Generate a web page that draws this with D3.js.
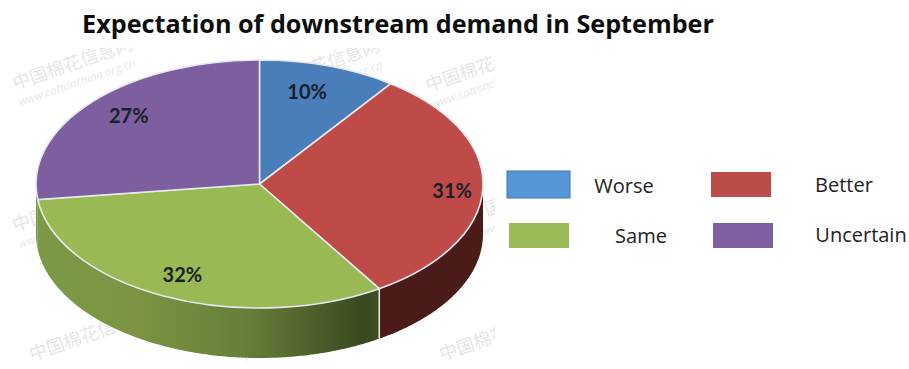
<!DOCTYPE html>
<html>
<head>
<meta charset="utf-8">
<script src="https://cdn.jsdelivr.net/npm/d3@7"></script>
<style>
html,body{margin:0;padding:0;background:#fff}
svg{display:block}
text{font-family:"Open Sans",sans-serif}
</style>
</head>
<body>
<svg id="chart" width="909" height="369"></svg>
<script>
// Survey shares
const categories = ["Worse", "Better", "Same", "Uncertain"];
const shares = [10, 31, 32, 27];
const topColors = ["#4a7ebb", "#be4b48", "#98b954", "#7d5f9f"];
const legendColors = ["#5596d6", "#bd4b4a", "#9bbb59", "#7f5f9f"];
const chartTitle = "Expectation of downstream demand in September";

// Faint site stamps printed behind the pie: [x, y, carries the web address]
const stampMain = "中国棉花信息网";
const stampSub = "www.cottonchina.org.cn";
const stampSpots = [
  [15, 90, true], [262, 92, true], [428, 92, true],
  [15, 232, true], [470, 222, true],
  [32, 361, false], [238, 362, false], [442, 361, false]
];

// Pie ellipse and wall height
const cx = 259.5, cy = 184, rx = 223.5, ry = 124, depth = 50;

const svg = d3.select("#chart");
const defs = svg.append("defs");

// Wall shading: the green side darkens towards the right
const wallGrad = defs.append("linearGradient")
  .attr("id", "greenWall").attr("gradientUnits", "userSpaceOnUse")
  .attr("x1", cx - rx).attr("x2", 380).attr("y1", 0).attr("y2", 0);
[[0, "#7c9a45"], [0.3, "#7a9443"], [0.6, "#67803a"], [0.85, "#475a28"], [0.95, "#39481e"], [1, "#3f4f22"]]
  .forEach(([o, c]) => wallGrad.append("stop").attr("offset", o).attr("stop-color", c));

const wallFill = ["none", "#4a1b18", "url(#greenWall)", "#7c9a45"];

// The stamps stay inside the pie's own panel, below the title and left of the legend
defs.append("clipPath").attr("id", "stampPanel").append("rect")
  .attr("x", 0).attr("y", 48).attr("width", 495).attr("height", 321);

const stamps = svg.append("g").attr("class", "stamps").attr("clip-path", "url(#stampPanel)");
stampSpots.forEach(([x, y, hasSub]) => {
  const g = stamps.append("g").attr("transform", `translate(${x},${y}) rotate(-19)`);
  g.append("text").text(stampMain).attr("font-size", 18).attr("fill", "#e6e6e6")
    .style("font-family", '"Noto Sans CJK SC"');
  if (hasSub) {
    g.append("text").text(stampSub).attr("y", 17).attr("font-size", 11.5)
      .attr("font-style", "italic").attr("fill", "#e8e8e8");
  }
});

// Title
svg.append("text").attr("x", 398).attr("y", 33).attr("text-anchor", "middle")
  .attr("font-size", 25.2).attr("font-weight", 700).attr("fill", "#0d0d0d")
  .text(chartTitle);

const pie = d3.pie().sort(null).value(d => d);
const arcs = pie(shares);

// Projects a pie angle (clockwise from twelve o'clock) onto the tilted ellipse
const px = a => cx + rx * Math.sin(a);
const py = a => cy - ry * Math.cos(a);

// Front wall of each slice, limited to the visible half of the ellipse
const wallPath = (start, end) => {
  const a0 = Math.max(start, Math.PI / 2), a1 = Math.min(end, 3 * Math.PI / 2);
  if (a1 <= a0) return null;
  const steps = d3.range(a0, a1, 0.01).concat([a1]);
  const lower = steps.map(a => [px(a), py(a) + depth]);
  const upper = steps.slice().reverse().map(a => [px(a), py(a)]);
  return d3.line()(lower.concat(upper)) + "Z";
};

const walls = svg.append("g").attr("class", "walls");
arcs.forEach((d, i) => {
  const p = wallPath(d.startAngle, d.endAngle);
  if (p) walls.append("path").attr("d", p).attr("fill", wallFill[i]);
});
// Pale seam where the red and green walls meet
const seam = arcs[1].endAngle;
walls.append("line").attr("x1", px(seam)).attr("x2", px(seam))
  .attr("y1", py(seam)).attr("y2", py(seam) + depth)
  .attr("stroke", "#e4e8dc").attr("stroke-width", 1.6);

// Top face: a circular arc squashed into the ellipse
const arcGen = d3.arc().innerRadius(0).outerRadius(rx);
svg.append("g").attr("transform", `translate(${cx},${cy}) scale(1,${ry / rx})`)
  .selectAll("path").data(arcs).join("path")
  .attr("d", arcGen)
  .attr("fill", (d, i) => topColors[i])
  .attr("stroke", "#e6e8ee").attr("stroke-width", 1.6)
  .attr("vector-effect", "non-scaling-stroke");

// Value labels, placed as fractions of the ellipse radii from its centre
const labelSpots = [[0.213, -0.745], [0.862, 0.05], [-0.345, 0.73], [-0.585, -0.55]];
svg.append("g").selectAll("text").data(shares).join("text")
  .attr("x", (d, i) => cx + labelSpots[i][0] * rx)
  .attr("y", (d, i) => cy + labelSpots[i][1] * ry + 7.5)
  .attr("text-anchor", "middle").attr("font-size", 20)
  .style("font-family", "Lato").attr("font-weight", 700)
  .attr("fill", "#1b1f2a")
  .text(d => d + "%");

// Legend
const legendBoxes = [[507, 171, 63, 27], [711, 172, 60, 25], [509, 223, 60, 25], [713, 223, 60, 25]];
const legendText = [[624, 193], [844, 192], [641, 243], [861, 242]];
const legend = svg.append("g");
categories.forEach((name, i) => {
  const [x, y, w, h] = legendBoxes[i];
  legend.append("rect").attr("x", x).attr("y", y).attr("width", w).attr("height", h)
    .attr("fill", legendColors[i]).attr("stroke", i === 0 ? "#3f74ae" : "none");
  legend.append("text").attr("x", legendText[i][0]).attr("y", legendText[i][1])
    .attr("text-anchor", "middle").attr("font-size", 20).attr("fill", "#222").text(name);
});
</script>
</body>
</html>
